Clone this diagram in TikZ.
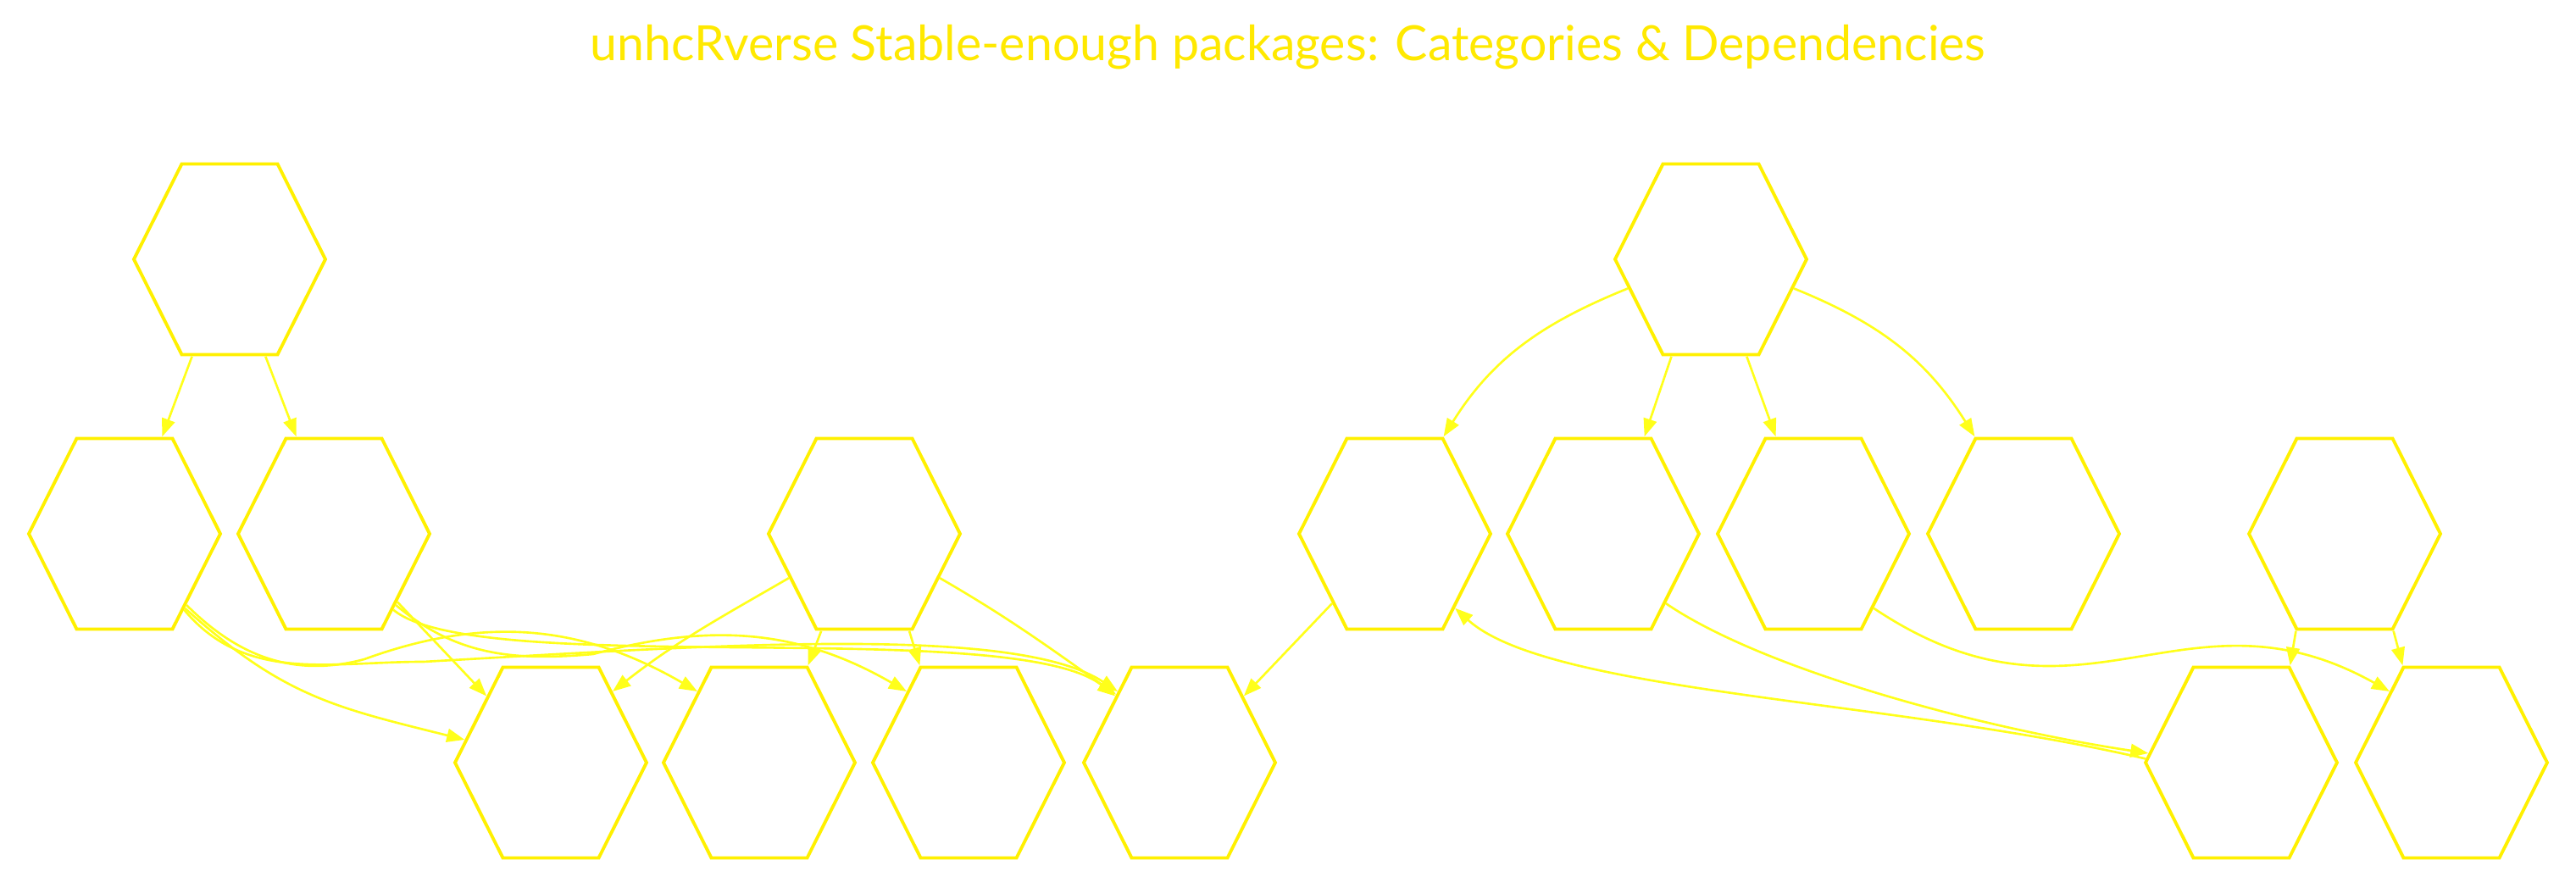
\documentclass[tikz,border=0pt]{standalone}
\usepackage{fontspec}
\setmainfont{Lato}
\usetikzlibrary{shapes.geometric, arrows.meta}

\definecolor{hexY}{HTML}{FFF000}
\definecolor{edgeY}{HTML}{FFFF1A}
\definecolor{titleY}{HTML}{FFE900}

\begin{document}
\begin{tikzpicture}[
    pkg/.style={regular polygon, regular polygon sides=6, draw=hexY, line width=1.1pt,
      minimum size=2.26cm, inner sep=0pt, yscale=1.15, transform shape},
    dep/.style={edgeY, line width=0.75pt, -{Triangle[length=6pt,width=4.5pt]}}]
    % canvas
    \fill[white] (0,0) rectangle (30.4,10.48);

    \node[text=titleY, font=\fontsize{16.3}{20}\selectfont, anchor=base] (title)
      at (15.2,9.763) {unhcRverse Stable-enough packages: Categories \& Dependencies};

    % categories
    \node[pkg] (cat1) at (2.71,7.42) {};
    \node[pkg] (cat2) at (20.19,7.42) {};

    % packages, middle row
    \node[pkg] (pk1) at (1.47,4.18) {};
    \node[pkg] (pk2) at (3.94,4.18) {};
    \node[pkg] (pk3) at (10.20,4.18) {};
    \node[pkg] (pk4) at (16.46,4.18) {};
    \node[pkg] (pk5) at (18.92,4.18) {};
    \node[pkg] (pk6) at (21.40,4.18) {};
    \node[pkg] (pk7) at (23.88,4.18) {};
    \node[pkg] (pk8) at (27.67,4.18) {};

    % packages, bottom row
    \node[pkg] (dp1) at (6.50,1.48) {};
    \node[pkg] (dp2) at (8.96,1.48) {};
    \node[pkg] (dp3) at (11.43,1.48) {};
    \node[pkg] (dp4) at (13.92,1.48) {};
    \node[pkg] (dp5) at (26.45,1.48) {};
    \node[pkg] (dp6) at (28.93,1.48) {};

    % category -> package
    \draw[dep] (cat1.-114) -- (pk1.66);
    \draw[dep] (cat1.-67) -- (pk2.114);
    \draw[dep] (cat2.-163) to[out=202, in=58] (pk4.60);
    \draw[dep] (cat2.-115) -- (pk5.64);
    \draw[dep] (cat2.-67) -- (pk6.114);
    \draw[dep] (cat2.-17) to[out=-22, in=122] (pk7.120);

    % left cluster
    \draw[dep] (pk1.-47) to[out=-42, in=166, looseness=1.1] (dp1.167);
    \draw[dep] (pk1.-45) to[out=-45, in=195] (4.30,2.70) to[out=20, in=150] (dp2.135);
    \draw[dep] (pk1.-48) to[out=-50, in=180] (5.00,2.67)
      .. controls +(3.5,0.2) and +(-1.2,0.79) .. (dp4.135);
    \draw[dep] (pk2.-43) -- (dp1.138);
    \draw[dep] (pk2.-45) to[out=-40, in=185] (7.00,2.76) to[out=15, in=150] (dp3.135);
    \draw[dep] (pk2.-48) .. controls +(0.97,-0.82) and +(-1.19,0.95) .. (dp4.138);
    \draw[dep] (pk3.-153) to[out=210, in=38] (dp1.45);
    \draw[dep] (pk3.-117) -- (dp2.60);
    \draw[dep] (pk3.-62) -- (dp3.120);
    \draw[dep] (pk3.-27) to[out=-30, in=145] (dp4.137);
    \draw[dep] (pk4.-136) -- (dp4.42);

    % right cluster
    \draw[dep] (dp5.178) .. controls +(-3.0,0.7) and +(1.1,-1.0) .. (pk4.-47);
    \draw[dep] (pk5.-44) .. controls +(1.14,-0.78) and +(-2.0,0.3) .. (dp5.175);
    \draw[dep] (pk6.-47) .. controls +(2.46,-1.65) and +(-2.43,1.36) .. (dp6.135);
    \draw[dep] (pk8.-120) -- (dp5.60);
    \draw[dep] (pk8.-60) -- (dp6.120);
\end{tikzpicture}
\end{document}
